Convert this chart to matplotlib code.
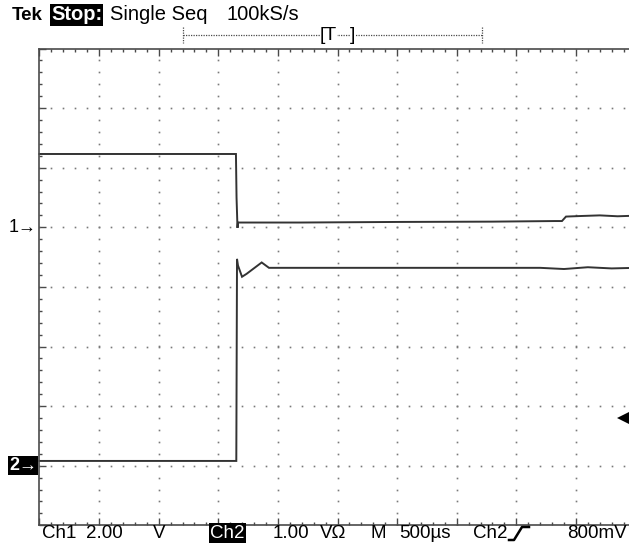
import matplotlib

matplotlib.use("Agg")
import matplotlib.pyplot as plt
import numpy as np
from matplotlib.lines import Line2D
from matplotlib.ticker import MultipleLocator
from matplotlib.transforms import blended_transform_factory

W, H = 629, 545

# time base 500 us/div, 10 divisions
TIME_PER_DIV = 500.0
# channel 1: 2.00 V/div, ground one division above centre
CH1_SCALE, CH1_OFFSET = 2.0, 1.0
# channel 2: 1.00 V/div, ground three divisions below centre
CH2_SCALE, CH2_OFFSET = 1.0, -3.0
TRIG_LEVEL = 0.8  # V on ch2

ch1_t = [0, 1648, 1653, 1661, 1665, 2185, 2600, 3024, 3800, 4324, 4383, 4417, 4550, 4700, 4850, 5000]
ch1_v = [2.46, 2.46, 1.0, -0.02, 0.16, 0.16, 0.17, 0.18, 0.19, 0.21, 0.21, 0.36, 0.38, 0.40, 0.37, 0.39]

ch2_t = [0, 1651, 1657, 1665, 1699, 1738, 1864, 1925, 3500, 4200, 4400, 4600, 4800, 5000]
ch2_v = [0.08, 0.08, 3.47, 3.36, 3.17, 3.22, 3.41, 3.32, 3.32, 3.32, 3.30, 3.33, 3.31, 3.32]

GRID = "#7a7a7a"
EDGE = "#4a4a4a"
TRACE = "#333333"
FONT = ["Liberation Sans Narrow", "Liberation Sans", "DejaVu Sans"]


def px(x, y):
    return x / W, 1 - y / H


plt.rcParams["font.family"] = FONT
fig = plt.figure(figsize=(W / 100, H / 100), dpi=100)
fig.patch.set_facecolor("white")

x0, top, bot, div = 39.5, 48.5, 525.3, 59.6
ax = fig.add_axes([x0 / W, (H - bot) / H, 10 * div / W, (bot - top) / H])
ax.set_xlim(0, 10 * TIME_PER_DIV)
ax.set_ylim(-4, 4)
ax.set_facecolor("white")

# graticule: dotted lines, one dot every fifth of a division
minor_y = np.arange(-4, 4.001, 0.2)
minor_x = np.arange(0, 10.001, 0.2) * TIME_PER_DIV
for i in range(1, 10):
    ax.plot(np.full_like(minor_y, i * TIME_PER_DIV), minor_y, ls="none", marker="s",
            ms=1.2, mew=0, color=GRID)
for j in range(-3, 4):
    ax.plot(minor_x, np.full_like(minor_x, j), ls="none", marker="s",
            ms=1.2, mew=0, color=GRID)

for side in ["left", "top", "bottom"]:
    ax.spines[side].set_color(EDGE)
    ax.spines[side].set_linewidth(1.2)
ax.spines["right"].set_visible(False)
ax.xaxis.set_major_locator(MultipleLocator(TIME_PER_DIV))
ax.xaxis.set_minor_locator(MultipleLocator(TIME_PER_DIV / 5))
ax.yaxis.set_major_locator(MultipleLocator(1))
ax.yaxis.set_minor_locator(MultipleLocator(0.2))
ax.tick_params(which="both", direction="in", top=True, bottom=True, left=True, right=False,
               labelbottom=False, labelleft=False, color=EDGE)
ax.tick_params(which="major", length=5, width=1)
ax.tick_params(which="minor", length=2, width=1)

# traces, converted from volts to screen divisions
ax.plot(ch1_t, np.array(ch1_v) / CH1_SCALE + CH1_OFFSET, color=TRACE, lw=1.4,
        solid_joinstyle="miter", clip_on=False)
ax.plot(ch2_t, np.array(ch2_v) / CH2_SCALE + CH2_OFFSET, color=TRACE, lw=1.4,
        solid_joinstyle="miter", clip_on=False)

# channel ground markers
ax.annotate("1\u2192", xy=(-0.004, CH1_OFFSET), xycoords=("axes fraction", "data"),
            ha="right", va="center", fontsize=13, color="black", family=FONT)
ax.annotate("2\u2192", xy=(-0.004, CH2_OFFSET), xycoords=("axes fraction", "data"),
            ha="right", va="center", fontsize=13, color="white", fontweight="bold",
            family=FONT, bbox=dict(boxstyle="square,pad=0.06", fc="black", ec="none"))

# trigger level marker at right edge of the visible screen
trans = blended_transform_factory(ax.transAxes, ax.transData)
ax.plot([(625 - x0) / (10 * div)], [TRIG_LEVEL / CH2_SCALE + CH2_OFFSET], marker="<",
        ms=11, color="black", mew=0, transform=trans, clip_on=False)

# header
fs = 14.5
fig.text(*px(12, 15), "Tek", fontsize=13.5, fontweight="bold", va="center", ha="left")
fig.text(*px(51, 15), "Stop:", fontsize=fs, fontweight="bold", va="center", ha="left",
         color="white", bbox=dict(boxstyle="square,pad=0.05", fc="black", ec="none"))
fig.text(*px(110, 15), "Single Seq", fontsize=fs, va="center", ha="left")
fig.text(*px(227, 15), "100kS/s", fontsize=fs, va="center", ha="left")

# record view bar
bar = dict(color=EDGE, lw=0.9, ls=(0, (1, 1)))
fig.add_artist(Line2D([183 / W, 482 / W], [1 - 35 / H] * 2, **bar))
for xe in (183, 482):
    fig.add_artist(Line2D([xe / W] * 2, [1 - 27 / H, 1 - 43 / H], **bar))
fig.text(*px(320, 36), "[T", fontsize=14, va="center", ha="left",
         bbox=dict(boxstyle="square,pad=0", fc="white", ec="none"))
fig.text(*px(350, 36), "]", fontsize=14, va="center", ha="left",
         bbox=dict(boxstyle="square,pad=0", fc="white", ec="none"))

# footer
yb = 533
fb = 13.5
fig.text(*px(42, yb), "Ch1", fontsize=fb, va="center", ha="left")
fig.text(*px(86, yb), "2.00", fontsize=fb, va="center", ha="left")
fig.text(*px(153, yb), "V", fontsize=fb, va="center", ha="left")
fig.text(*px(210, yb), "Ch2", fontsize=fb, va="center", ha="left", color="white",
         bbox=dict(boxstyle="square,pad=0.08", fc="black", ec="none"))
fig.text(*px(273, yb), "1.00", fontsize=fb, va="center", ha="left")
fig.text(*px(320, yb), "V\u03a9", fontsize=fb, va="center", ha="left")
fig.text(*px(371, yb), "M", fontsize=fb, va="center", ha="left")
fig.text(*px(399, yb), "500\u00b5s", fontsize=fb, va="center", ha="left")
fig.text(*px(473, yb), "Ch2", fontsize=fb, va="center", ha="left")
slope_x = np.array([509, 514, 522, 529])
slope_y = np.array([540, 540, 527, 527])
fig.add_artist(Line2D(slope_x / W, 1 - slope_y / H, color="black", lw=1.8))
fig.text(*px(627, yb), "800mV", fontsize=fb, va="center", ha="right")

fig.savefig("out.png", dpi=100, facecolor="white")
